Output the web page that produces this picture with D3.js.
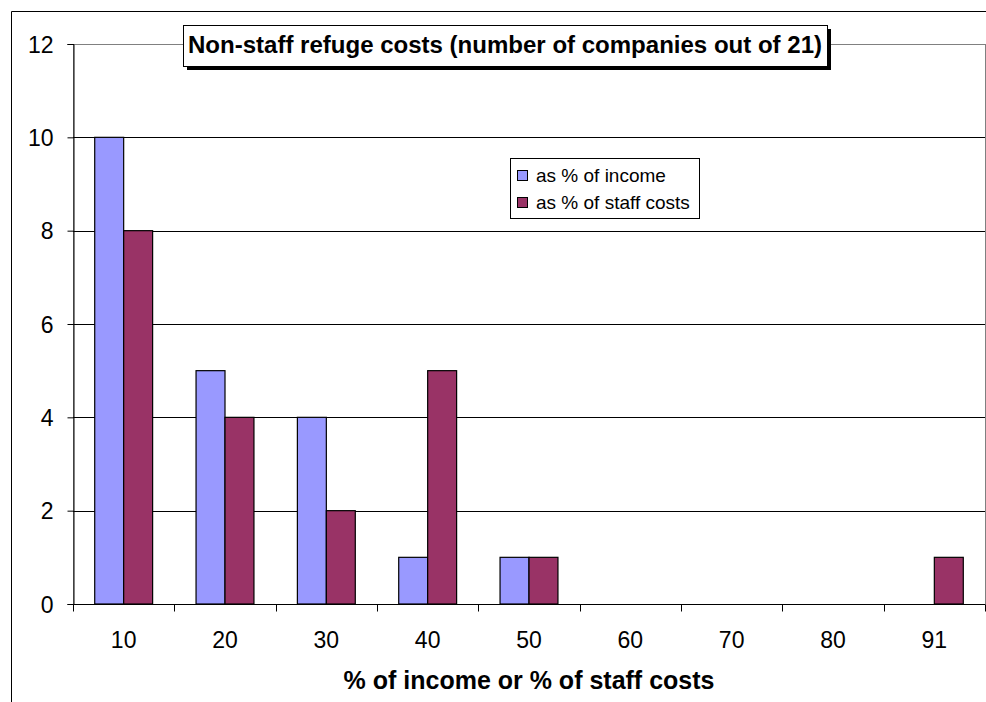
<!DOCTYPE html>
<html>
<head>
<meta charset="utf-8">
<script src="https://cdn.jsdelivr.net/npm/d3@7"></script>
<style>
  html, body { margin: 0; padding: 0; background: #fff; }
  svg { display: block; font-family: "Liberation Sans", Arial, sans-serif; }
</style>
</head>
<body>
<svg id="chart" width="986" height="702"></svg>
<script>
// Share bands (% of income or % of staff costs)
const categories = ["10", "20", "30", "40", "50", "60", "70", "80", "91"];
// Number of companies in each band
const incomeCounts = [10, 5, 4, 1, 1, 0, 0, 0, 0];
const staffCounts = [8, 4, 2, 5, 1, 0, 0, 0, 1];
const seriesNames = ["as % of income", "as % of staff costs"];
const seriesColors = ["#9999FF", "#993366"];
const yTicks = [0, 2, 4, 6, 8, 10, 12];

const svg = d3.select("#chart");
const plot = { left: 73, top: 44, right: 985, bottom: 604 };

// Outer chart-area frame
svg.append("path")
  .attr("d", "M11.5,720 V11.5 H1000")
  .attr("fill", "none").attr("stroke", "#000").attr("stroke-width", 1);

const x = d3.scaleBand().domain(categories).range([plot.left, plot.right]).padding(0);
const y = d3.scaleLinear().domain([0, 12]).range([plot.bottom, plot.top]);

// Plot-area border (grey)
svg.append("rect")
  .attr("x", plot.left + 0.5).attr("y", plot.top + 0.5)
  .attr("width", plot.right - plot.left).attr("height", plot.bottom - plot.top)
  .attr("fill", "none").attr("stroke", "#808080");

// Horizontal gridlines
svg.append("g").selectAll("line")
  .data(yTicks.filter(t => t > 0 && t < 12))
  .join("line")
  .attr("x1", plot.left).attr("x2", plot.right)
  .attr("y1", d => Math.round(y(d)) + 0.5).attr("y2", d => Math.round(y(d)) + 0.5)
  .attr("stroke", "#000");

// Bars: two series side by side, gap width 150%
const barW = x.bandwidth() / 3.5;
const groupOffset = x.bandwidth() * 0.75 / 3.5;
const series = [incomeCounts, staffCounts];
series.forEach((vals, si) => {
  svg.append("g").selectAll("rect")
    .data(vals.map((v, i) => ({ cat: categories[i], v })).filter(d => d.v > 0))
    .join("rect")
    .attr("x", d => x(d.cat) + groupOffset + si * barW)
    .attr("y", d => y(d.v))
    .attr("width", barW)
    .attr("height", d => y(0) - y(d.v))
    .attr("fill", seriesColors[si])
    .attr("stroke", "#000").attr("stroke-width", 1.2);
});

// Y axis
const yAxis = d3.axisLeft(y).tickValues(yTicks).tickSize(6).tickPadding(14).tickFormat(d3.format("d"));
const gy = svg.append("g").attr("transform", `translate(${plot.left + 0.5},0)`).call(yAxis);
gy.attr("font-size", null).attr("font-family", null);
gy.select(".domain").attr("stroke", "#000");
gy.selectAll(".tick line").attr("stroke", "#000");
gy.selectAll("text").attr("font-size", 23).attr("fill", "#000").attr("dy", "0.36em");

// X axis: tick marks on category boundaries, labels centred in bands
const gx = svg.append("g").attr("transform", `translate(0,${plot.bottom + 0.5})`);
gx.append("line").attr("x1", plot.left).attr("x2", plot.right).attr("stroke", "#000");
const boundaries = categories.map(c => x(c)).concat([plot.right]);
gx.selectAll("line.tk").data(boundaries).join("line").attr("class", "tk")
  .attr("x1", d => Math.round(d) + 0.5).attr("x2", d => Math.round(d) + 0.5)
  .attr("y1", 0).attr("y2", 7).attr("stroke", "#000");
gx.selectAll("text").data(categories).join("text")
  .attr("x", d => x(d) + x.bandwidth() / 2)
  .attr("y", 43)
  .attr("text-anchor", "middle")
  .attr("font-size", 23)
  .text(d => d);

// X axis title
svg.append("text")
  .attr("x", 529).attr("y", 689)
  .attr("text-anchor", "middle")
  .attr("font-size", 25).attr("font-weight", "bold")
  .text("% of income or % of staff costs");

// Title box with drop shadow
const tb = { x: 183, y: 25, w: 644, h: 41 };
svg.append("rect").attr("x", tb.x + 4).attr("y", tb.y + 4).attr("width", tb.w).attr("height", tb.h).attr("fill", "#000");
svg.append("rect").attr("x", tb.x + 0.5).attr("y", tb.y + 0.5).attr("width", tb.w).attr("height", tb.h)
  .attr("fill", "#fff").attr("stroke", "#000");
svg.append("text")
  .attr("x", tb.x + tb.w / 2).attr("y", 52.5)
  .attr("text-anchor", "middle")
  .attr("font-size", 23).attr("font-weight", "bold")
  .attr("textLength", 634).attr("lengthAdjust", "spacingAndGlyphs")
  .text("Non-staff refuge costs (number of companies out of 21)");

// Legend
const lg = svg.append("g").attr("transform", "translate(510,158)");
lg.append("rect").attr("x", 0.5).attr("y", 0.5).attr("width", 189).attr("height", 60)
  .attr("fill", "#fff").attr("stroke", "#000");
seriesNames.forEach((name, i) => {
  const row = lg.append("g").attr("transform", `translate(0,${18 + i * 27})`);
  row.append("rect").attr("x", 7.5).attr("y", -5.5).attr("width", 10).attr("height", 10)
    .attr("fill", seriesColors[i]).attr("stroke", "#000");
  row.append("text").attr("x", 26).attr("y", 6).attr("font-size", 19).text(name);
});
</script>
</body>
</html>
